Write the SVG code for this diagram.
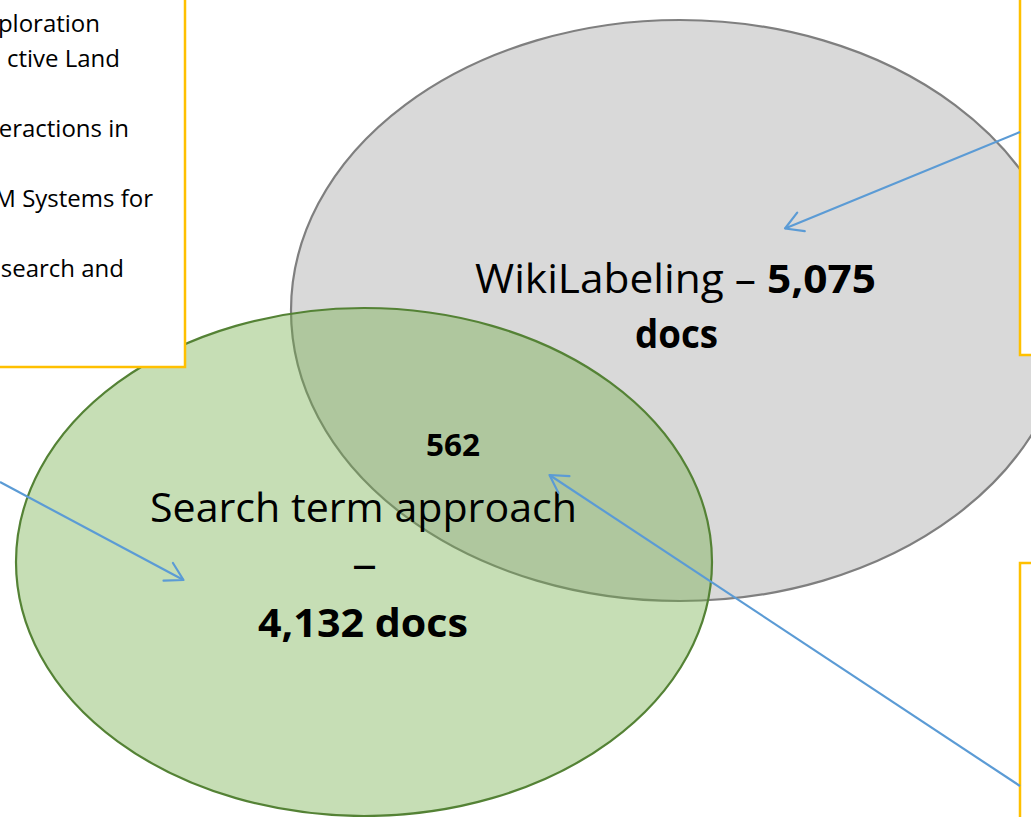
<svg xmlns="http://www.w3.org/2000/svg" width="1031" height="817" viewBox="0 0 1031 817">
  <style>
    .box { fill: #FFFFFF; stroke: #FFC000; stroke-width: 2.5; }
    .lbl { font-family: "Open Sans", "Noto Sans", sans-serif; fill: #000000; }
    .big { font-size: 40px; }
    .small { font-size: 24px; }
    .b { font-weight: bold; }
    .conn { fill: none; stroke: #5B9BD5; stroke-width: 2.2; marker-end: url(#arr); }
  </style>
  <defs>
    <marker id="arr" markerUnits="userSpaceOnUse" markerWidth="40" markerHeight="40" refX="0" refY="0" viewBox="-20 -20 40 40" orient="auto" overflow="visible">
      <path d="M-17.3,-10 L0,0 L-17.3,10" fill="none" stroke="#5B9BD5" stroke-width="2.2" stroke-linecap="round" stroke-linejoin="round"/>
    </marker>
  </defs>
  <rect width="1031" height="817" fill="#FFFFFF"/>

  <g id="wikilabeling">
    <ellipse cx="680" cy="310.5" rx="389" ry="290.5" fill="#D9D9D9" stroke="#7F7F7F" stroke-width="2.2"/>
  </g>
  <g id="search-term">
    <ellipse cx="364" cy="562" rx="348" ry="254" fill="#70AD47" fill-opacity="0.4" stroke="#548235" stroke-width="2.2"/>
  </g>

  <g id="labels">
    <text class="lbl big" x="475" y="293" textLength="401" lengthAdjust="spacingAndGlyphs">WikiLabeling – <tspan class="b">5,075</tspan></text>
    <text class="lbl big b" x="635" y="348" textLength="83" lengthAdjust="spacingAndGlyphs">docs</text>
    <text class="lbl b" x="426" y="456" font-size="31" textLength="54" lengthAdjust="spacingAndGlyphs">562</text>
    <text class="lbl big" x="150" y="522" textLength="427" lengthAdjust="spacingAndGlyphs">Search term approach</text>
    <text class="lbl" x="352" y="579" font-size="44" textLength="25" lengthAdjust="spacingAndGlyphs">–</text>
    <text class="lbl big b" x="258" y="637" textLength="210" lengthAdjust="spacingAndGlyphs">4,132 docs</text>
  </g>

  <g id="note-left">
    <rect class="box" x="-10" y="-10" width="195" height="377"/>
    <text class="lbl small" text-anchor="end" x="100" y="32">ploration</text>
    <text class="lbl small" text-anchor="end" x="120" y="67">ctive Land</text>
    <text class="lbl small" text-anchor="end" x="129" y="137">eractions in</text>
    <text class="lbl small" text-anchor="end" x="153" y="207">M Systems for</text>
    <text class="lbl small" text-anchor="end" x="124" y="277">search and</text>
  </g>
  <g id="note-right-top">
    <rect class="box" x="1020" y="-10" width="30" height="365"/>
  </g>
  <g id="note-right-bottom">
    <rect class="box" x="1020" y="563" width="30" height="270"/>
  </g>

  <g id="connectors">
    <line class="conn" x1="1020" y1="132" x2="785" y2="228.5"/>
    <line class="conn" x1="0" y1="482" x2="183.5" y2="580"/>
    <line class="conn" x1="1020" y1="786" x2="549.5" y2="475"/>
  </g>
</svg>
